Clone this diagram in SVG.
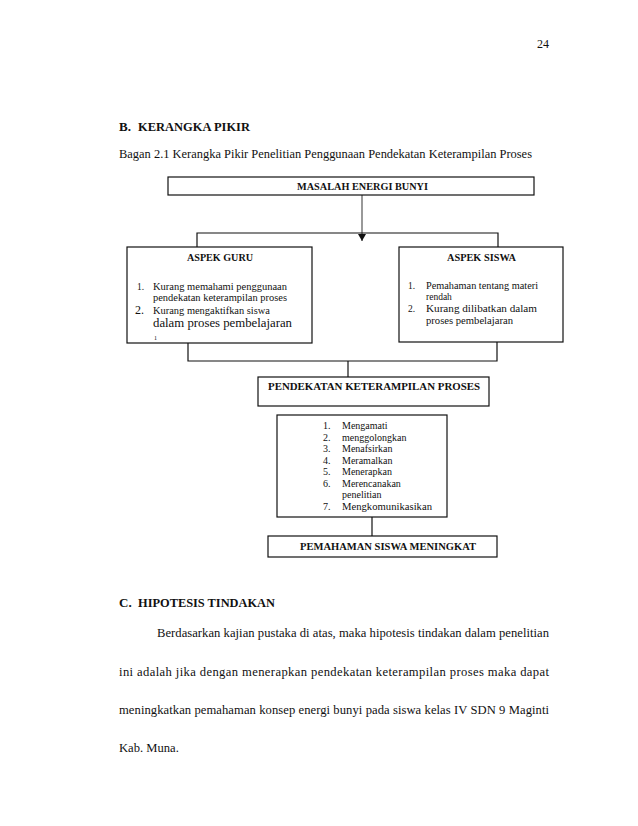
<svg xmlns="http://www.w3.org/2000/svg" width="638" height="826" viewBox="0 0 638 826">
<style>
text{font-family:"Liberation Serif","Times New Roman",serif;fill:#111}
.b{font-weight:bold}
.box{fill:#fff;stroke:#111;stroke-width:1.2}
.ln{fill:none;stroke:#111;stroke-width:1.2}
.s9{font-size:9.5px}
.s10{font-size:10px}
.s12{font-size:12px}
.p{font-size:12.6px}
.h{font-size:13px;font-weight:bold}
</style>
<defs>
<marker id="ah" markerWidth="8" markerHeight="8" refX="7" refY="4" orient="auto" markerUnits="userSpaceOnUse">
<path d="M0,0 L7,4 L0,8 z" fill="#111"/>
</marker>
</defs>
<rect width="638" height="826" fill="#fff"/>
<text x="537" y="48" style="font-size:12px">24</text>
<text x="119" y="131" class="h">B.</text>
<text x="138" y="131" class="h" textLength="112" lengthAdjust="spacingAndGlyphs">KERANGKA PIKIR</text>
<text x="119" y="158" style="font-size:12.5px" textLength="413" lengthAdjust="spacingAndGlyphs">Bagan 2.1 Kerangka Pikir Penelitian Penggunaan Pendekatan Keterampilan Proses</text>

<g id="connectors">
<line x1="362" y1="195" x2="362" y2="241" stroke="#555" stroke-width="1.2" marker-end="url(#ah)"/>
<polyline class="ln" points="197,247 197,233 498,233 498,247"/>
<polyline class="ln" points="188,343 188,361 497,361 497,342"/>
<line class="ln" x1="348" y1="361" x2="348" y2="377"/>
<line class="ln" x1="372" y1="517" x2="372" y2="536"/>
</g>

<g id="masalah">
<rect class="box" x="168" y="177" width="366" height="18"/>
<text x="297" y="189.5" class="b s9" textLength="131" lengthAdjust="spacingAndGlyphs">MASALAH ENERGI BUNYI</text>
</g>

<g id="aspek-guru">
<rect class="box" x="127" y="247" width="185" height="96"/>
<text x="187" y="261" class="b s9" textLength="66" lengthAdjust="spacingAndGlyphs">ASPEK GURU</text>
<text x="137" y="290" class="s9">1.</text>
<text x="153" y="290" class="s9" textLength="134" lengthAdjust="spacingAndGlyphs">Kurang memahami penggunaan</text>
<text x="153" y="301" class="s9" textLength="134" lengthAdjust="spacingAndGlyphs">pendekatan keterampilan proses</text>
<text x="135" y="314" class="s12">2.</text>
<text x="153" y="314" class="s9" textLength="117" lengthAdjust="spacingAndGlyphs">Kurang mengaktifkan siswa</text>
<text x="153" y="327" class="s12" textLength="139" lengthAdjust="spacingAndGlyphs">dalam proses pembelajaran</text>
<text x="154" y="340" style="font-size:6px">1</text>
</g>

<g id="aspek-siswa">
<rect class="box" x="399" y="247" width="164" height="95"/>
<text x="447" y="261" class="b s9" textLength="69" lengthAdjust="spacingAndGlyphs">ASPEK SISWA</text>
<text x="408" y="289" class="s9">1.</text>
<text x="426" y="289" class="s9" textLength="112" lengthAdjust="spacingAndGlyphs">Pemahaman tentang materi</text>
<text x="426" y="300" class="s9">rendah</text>
<text x="408" y="312" class="s9">2.</text>
<text x="426" y="312" class="s9" textLength="111" lengthAdjust="spacingAndGlyphs">Kurang dilibatkan dalam</text>
<text x="426" y="324" class="s9" textLength="87" lengthAdjust="spacingAndGlyphs">proses pembelajaran</text>
</g>

<g id="pendekatan">
<rect class="box" x="258" y="377" width="231" height="29"/>
<text x="268" y="390" class="b s9" textLength="212" lengthAdjust="spacingAndGlyphs">PENDEKATAN KETERAMPILAN PROSES</text>
</g>

<g id="indikator">
<rect class="box" x="277" y="415" width="170" height="102"/>
<text x="323" y="429" class="s10">1.</text><text x="342" y="429" class="s10">Mengamati</text>
<text x="323" y="440.5" class="s10">2.</text><text x="342" y="440.5" class="s10">menggolongkan</text>
<text x="323" y="452" class="s10">3.</text><text x="342" y="452" class="s10">Menafsirkan</text>
<text x="323" y="463.5" class="s10">4.</text><text x="342" y="463.5" class="s10">Meramalkan</text>
<text x="323" y="475" class="s10">5.</text><text x="342" y="475" class="s10">Menerapkan</text>
<text x="323" y="486.5" class="s10">6.</text><text x="342" y="486.5" class="s10">Merencanakan</text>
<text x="342" y="498" class="s10">penelitian</text>
<text x="323" y="510" class="s10">7.</text><text x="342" y="510" class="s10" textLength="90" lengthAdjust="spacingAndGlyphs">Mengkomunikasikan</text>
</g>

<g id="pemahaman">
<rect class="box" x="268" y="536" width="229" height="21"/>
<text x="300" y="550" class="b s9" textLength="176" lengthAdjust="spacingAndGlyphs">PEMAHAMAN SISWA MENINGKAT</text>
</g>

<text x="119" y="607" class="h">C.</text>
<text x="138" y="607" class="h" textLength="137" lengthAdjust="spacingAndGlyphs">HIPOTESIS TINDAKAN</text>
<text x="157" y="637" class="p" textLength="392" lengthAdjust="spacing">Berdasarkan kajian pustaka di atas, maka hipotesis tindakan dalam penelitian</text>
<text x="119" y="676" class="p" textLength="430" lengthAdjust="spacing">ini adalah jika dengan menerapkan pendekatan keterampilan proses maka dapat</text>
<text x="119" y="714" class="p" textLength="430" lengthAdjust="spacing">meningkatkan pemahaman konsep energi bunyi pada siswa kelas IV SDN 9 Maginti</text>
<text x="119" y="752" class="p">Kab. Muna.</text>
</svg>
